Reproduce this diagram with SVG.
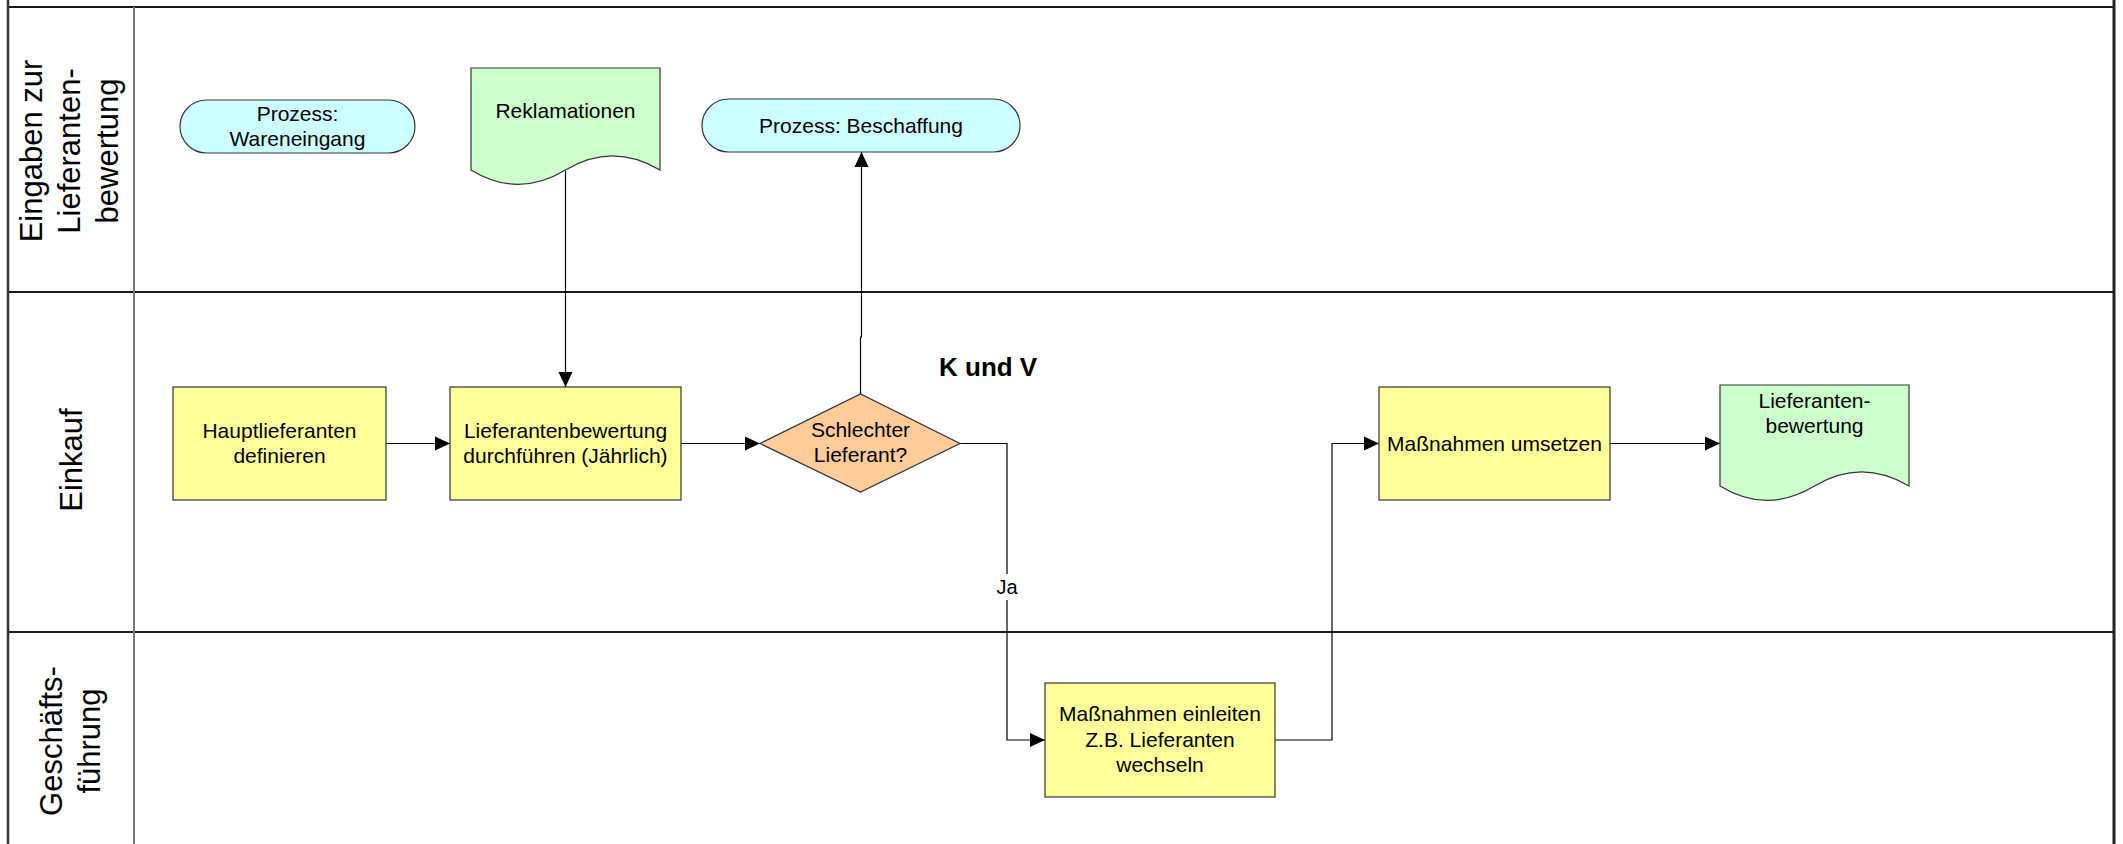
<svg xmlns="http://www.w3.org/2000/svg" width="2123" height="844" viewBox="0 0 2123 844">
<style>
text{font-family:"Liberation Sans",Arial,sans-serif;fill:#000}
.t{font-size:21px;text-anchor:middle}
.lane{font-size:31px;text-anchor:middle}
.box{fill:#FFFF99;stroke:#333;stroke-width:1.2}
.term{fill:#CCFFFF;stroke:#333;stroke-width:1.2}
.doc{fill:#CCFFCC;stroke:#333;stroke-width:1.2}
.dec{fill:#FFCC99;stroke:#333;stroke-width:1.2}
.con{fill:none;stroke:#000;stroke-width:1.2}
.ll{stroke:#1a1a1a;stroke-width:2}
</style>
<defs>
<marker id="ah" markerUnits="userSpaceOnUse" markerWidth="16" markerHeight="16" viewBox="0 0 16 16" refX="15" refY="8" orient="auto">
<path d="M0,1 L15,8 L0,15 Z" fill="#000"/>
</marker>
</defs>
<rect width="2123" height="844" fill="#fff"/>
<g id="pool">
<line class="ll" x1="8" y1="7" x2="2114" y2="7"/>
<line class="ll" x1="8" y1="292" x2="2114" y2="292"/>
<line class="ll" x1="8" y1="632" x2="2114" y2="632"/>
<line x1="134" y1="7" x2="134" y2="844" stroke="#777" stroke-width="2"/>
<line x1="8" y1="0" x2="8" y2="844" stroke="#333" stroke-width="2.5"/>
<line x1="2114" y1="0" x2="2114" y2="844" stroke="#222" stroke-width="3"/>
</g>
<g id="lane-labels">
<text class="lane" transform="translate(0,151) rotate(-90)"><tspan x="0" y="42">Eingaben zur</tspan><tspan x="0" y="80">Lieferanten-</tspan><tspan x="0" y="118">bewertung</tspan></text>
<text class="lane" transform="translate(0,460) rotate(-90)"><tspan x="0" y="82">Einkauf</tspan></text>
<text class="lane" transform="translate(0,741) rotate(-90)"><tspan x="0" y="62">Geschäfts-</tspan><tspan x="0" y="100">führung</tspan></text>
</g>
<g id="connectors">
<path class="con" d="M386,443.5 H450" marker-end="url(#ah)"/>
<path class="con" d="M565.5,171 V387" marker-end="url(#ah)"/>
<path class="con" d="M681,443.5 H760" marker-end="url(#ah)"/>
<path class="con" d="M860.5,394 V337 H861.5 V152" marker-end="url(#ah)"/>
<path class="con" d="M960,443.5 H1007 V740 H1045" marker-end="url(#ah)"/>
<path class="con" d="M1275,740 H1332 V443.5 H1379" marker-end="url(#ah)"/>
<path class="con" d="M1610,443.5 H1720" marker-end="url(#ah)"/>
<rect x="994" y="574" width="26" height="26" fill="#fff"/>
<text class="t" x="1007" y="594" style="font-size:20px">Ja</text>
</g>
<g id="n-wareneingang">
<rect class="term" x="180" y="100" width="235" height="53" rx="26.5"/>
<text class="t" x="297.5" y="121">Prozess:</text>
<text class="t" x="297.5" y="146">Wareneingang</text>
</g>
<g id="n-reklamationen">
<path class="doc" d="M471,170 V68 H660 V170 C628,151 597,151 565.5,170 C534,189 502,189 471,170 Z"/>
<text class="t" x="565.5" y="118">Reklamationen</text>
</g>
<g id="n-beschaffung">
<rect class="term" x="702" y="99" width="318" height="53" rx="26.5"/>
<text class="t" x="861" y="133">Prozess: Beschaffung</text>
</g>
<g id="n-hauptlieferanten">
<rect class="box" x="173" y="387" width="213" height="113"/>
<text class="t" x="279.5" y="438">Hauptlieferanten</text>
<text class="t" x="279.5" y="463">definieren</text>
</g>
<g id="n-bewertung">
<rect class="box" x="450" y="387" width="231" height="113"/>
<text class="t" x="565.5" y="438">Lieferantenbewertung</text>
<text class="t" x="565.5" y="463">durchführen (Jährlich)</text>
</g>
<g id="n-schlechter">
<polygon class="dec" points="760,443.5 860.5,394 960,443.5 860.5,492"/>
<text class="t" x="860.5" y="437">Schlechter</text>
<text class="t" x="860.5" y="462">Lieferant?</text>
</g>
<g id="n-kundv">
<text x="939" y="376" style="font-size:26px;font-weight:bold">K und V</text>
</g>
<g id="n-einleiten">
<rect class="box" x="1045" y="683" width="230" height="114"/>
<text class="t" x="1160" y="721">Maßnahmen einleiten</text>
<text class="t" x="1160" y="747">Z.B. Lieferanten</text>
<text class="t" x="1160" y="772">wechseln</text>
</g>
<g id="n-umsetzen">
<rect class="box" x="1379" y="387" width="231" height="113"/>
<text class="t" x="1494.5" y="451">Maßnahmen umsetzen</text>
</g>
<g id="n-lieferantenbewertung">
<path class="doc" d="M1720,486 V385 H1909 V486 C1877,467 1846,467 1814.5,486 C1783,505 1751,505 1720,486 Z"/>
<text class="t" x="1814.5" y="408">Lieferanten-</text>
<text class="t" x="1814.5" y="433">bewertung</text>
</g>
</svg>
